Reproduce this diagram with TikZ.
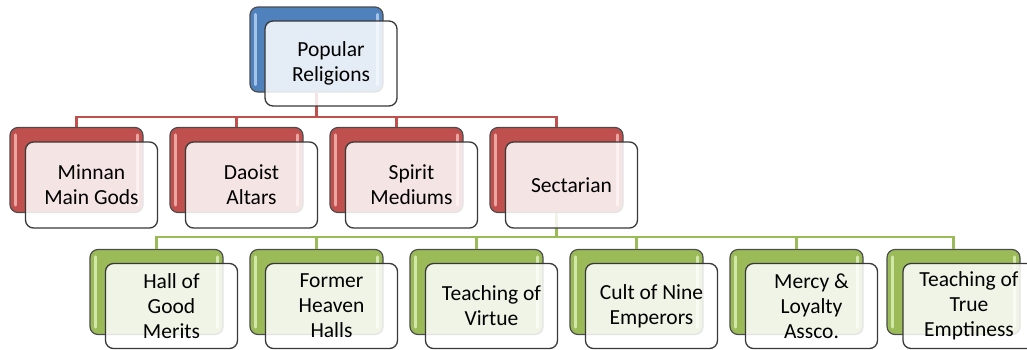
\documentclass[tikz,border=0pt]{standalone}
\usepackage{fontspec}
\setmainfont{Carlito}
\begin{document}
\begin{tikzpicture}[x=1pt,y=-1pt,
  backbox/.style={draw=black!70, line width=1.2pt, rounded corners=8pt, inner sep=0pt,
    minimum width=133pt, minimum height=85pt},
  bluebox/.style={backbox, fill=bluebase},
  redbox/.style={backbox, fill=redbase},
  greenbox/.style={backbox, fill=greenbase},
  hilite/.style={line width=3pt, line cap=round},
  frontbox/.style={draw=black!78, line width=1.3pt, rounded corners=8pt, fill=white, fill opacity=0.85,
    text opacity=1, minimum width=132pt, minimum height=85pt, align=center, inner sep=2pt,
    font=\fontsize{21.5}{25}\selectfont},
  redline/.style={draw=redbase, line width=2.4pt},
  greenline/.style={draw=greenbase, line width=2.4pt}]
\definecolor{bluebase}{RGB}{79,129,189}
\definecolor{bluelt}{RGB}{165,195,230}
\definecolor{redbase}{RGB}{192,80,77}
\definecolor{redlt}{RGB}{235,165,162}
\definecolor{greenbase}{RGB}{155,187,89}
\definecolor{greenlt}{RGB}{210,232,170}
\useasboundingbox (0,0) rectangle (1027,349);
\clip (0,0) rectangle (1027,349);
\coordinate (busR) at (0,117);
\coordinate (busG) at (0,237);
% back boxes
\node[bluebox] (b0) at (316.5,49.5) {};
\node[redbox] (r1) at (76.5,170) {};
\node[redbox] (r2) at (236.5,170) {};
\node[redbox] (r3) at (396.5,170) {};
\node[redbox] (r4) at (556.5,170) {};
\node[greenbox] (g1) at (156.5,292) {};
\node[greenbox] (g2) at (316.5,292) {};
\node[greenbox] (g3) at (476.5,292) {};
\node[greenbox] (g4) at (636.5,292) {};
\node[greenbox] (g5) at (796.5,292) {};
\node[greenbox] (g6) at (953.5,292) {};
% highlights on back boxes
\draw[hilite, bluelt] ([xshift=6pt,yshift=-8pt]b0.north west) -- ([xshift=6pt,yshift=8pt]b0.south west);
\draw[hilite, bluelt] ([xshift=-6pt,yshift=-8pt]b0.north east) -- ([xshift=-6pt,yshift=8pt]b0.south east);
\foreach \c in {r1,r2,r3,r4}{
  \draw[hilite, redlt] ([xshift=6pt,yshift=-8pt]\c.north west) -- ([xshift=6pt,yshift=8pt]\c.south west);
  \draw[hilite, redlt] ([xshift=-6pt,yshift=-8pt]\c.north east) -- ([xshift=-6pt,yshift=8pt]\c.south east);
}
\foreach \c in {g1,g2,g3,g4,g5,g6}{
  \draw[hilite, greenlt] ([xshift=6pt,yshift=-8pt]\c.north west) -- ([xshift=6pt,yshift=8pt]\c.south west);
  \draw[hilite, greenlt] ([xshift=-6pt,yshift=-8pt]\c.north east) -- ([xshift=-6pt,yshift=8pt]\c.south east);
}
% connectors
\foreach \c in {r1,r2,r3,r4}{
  \draw[redline] (b0.south) -- (b0.south |- busR) -| (\c.north);
}
\foreach \c in {g1,g2,g3,g4,g5,g6}{
  \draw[greenline] (r4.south) -- (r4.south |- busG) -| (\c.north);
}
% front boxes
\node[frontbox] (f0) at (331,63.5) {Popular\\Religions};
\node[frontbox, minimum height=86pt] (f1) at (91.5,185) {Minnan\\Main Gods};
\node[frontbox, minimum height=86pt] (f2) at (251.5,185) {Daoist\\Altars};
\node[frontbox, minimum height=86pt] (f3) at (411.5,185) {Spirit\\Mediums};
\node[frontbox, minimum height=86pt] (f4) at (571.5,185) {Sectarian};
\node[frontbox] (h1) at (171.5,306) {Hall of\\Good\\Merits};
\node[frontbox] (h2) at (331.5,306) {Former\\Heaven\\Halls};
\node[frontbox] (h3) at (491.5,306) {Teaching of\\Virtue};
\node[frontbox] (h4) at (651.5,306) {Cult of Nine\\Emperors};
\node[frontbox] (h5) at (811.5,306) {Mercy \&\\Loyalty\\Assco.};
\node[frontbox] (h6) at (969,306) {Teaching of\\True\\Emptiness};
\end{tikzpicture}
\end{document}
